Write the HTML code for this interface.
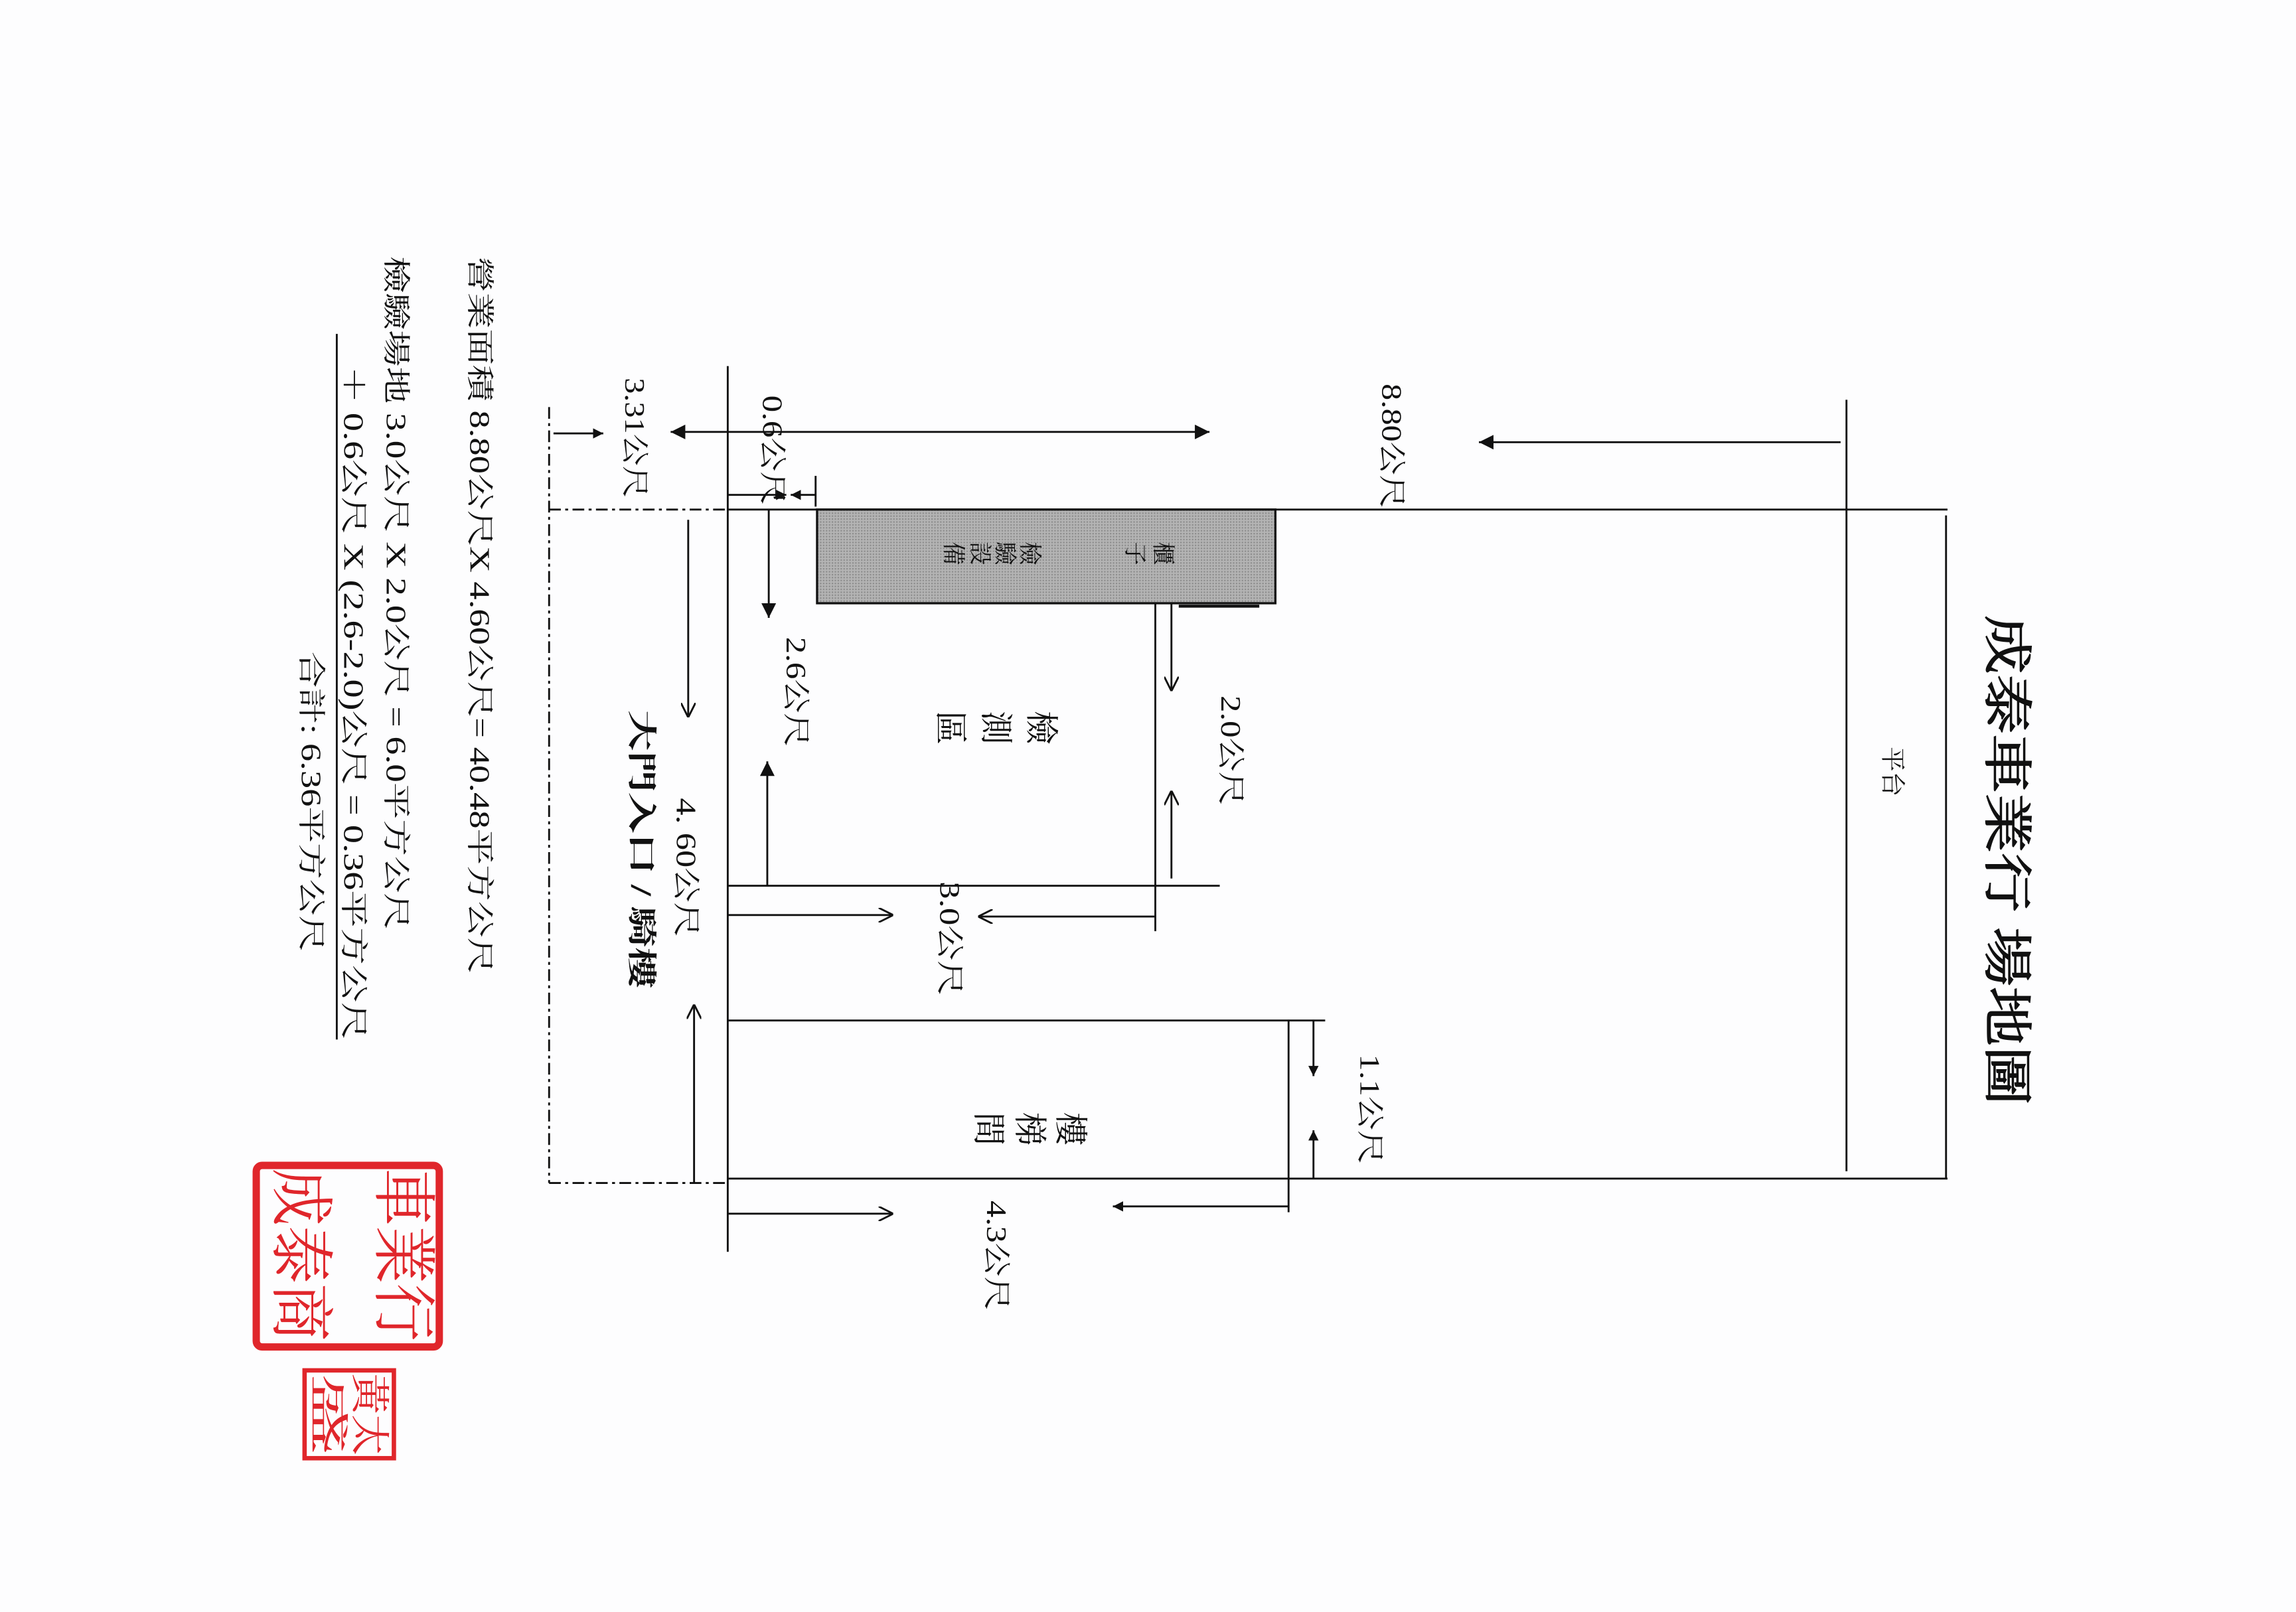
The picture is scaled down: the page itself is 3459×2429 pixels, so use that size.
<!DOCTYPE html>
<html><head><meta charset="utf-8"><style>
html,body{margin:0;padding:0;background:#fdfdfe;}
svg{display:block}
text{font-family:"Liberation Serif","Noto Serif CJK SC","Noto Sans CJK TC",serif;fill:#111;}
</style></head><body>
<svg width="3459" height="2429" viewBox="0 0 1568 1101" xmlns="http://www.w3.org/2000/svg">
<defs>
<pattern id="dots" width="2" height="2" patternUnits="userSpaceOnUse"><rect width="2" height="2" fill="#b4b4b4"/><rect width="1" height="1" fill="#8c8c8c"/></pattern>
<marker id="f" viewBox="0 0 10 10" refX="10" refY="5" markerWidth="7" markerHeight="7" markerUnits="userSpaceOnUse" orient="auto"><path d="M0,0L10,5L0,10z" fill="#111"/></marker>
<marker id="fb" viewBox="0 0 10 10" refX="10" refY="5" markerWidth="10" markerHeight="10" markerUnits="userSpaceOnUse" orient="auto-start-reverse"><path d="M0,0L10,5L0,10z" fill="#111"/></marker>
<marker id="o" viewBox="0 0 10 10" refX="10" refY="5" markerWidth="10" markerHeight="10" markerUnits="userSpaceOnUse" orient="auto"><path d="M0,0L10,5L0,10" fill="none" stroke="#111" stroke-width="1.3"/></marker>
</defs>
<rect width="1568" height="1101" fill="#fdfdfe"/>
<g stroke="#111" stroke-width="1.3" fill="none">
<line x1="497" y1="250" x2="497" y2="855"/>
<line x1="497" y1="348" x2="1330" y2="348"/>
<line x1="1329" y1="352" x2="1329" y2="805"/>
<line x1="1261" y1="273" x2="1261" y2="800"/>
<line x1="497" y1="805" x2="1330" y2="805"/>
<line x1="497" y1="605" x2="833" y2="605"/>
<line x1="497" y1="697" x2="905" y2="697"/>
<line x1="880" y1="697" x2="880" y2="828"/>
<line x1="789" y1="412" x2="789" y2="636"/>
<line x1="805" y1="414" x2="860" y2="414" stroke-width="2"/>
</g>
<g stroke="#111" stroke-width="1.3" fill="none" stroke-dasharray="8,3,2,3">
<line x1="375" y1="348" x2="497" y2="348"/>
<line x1="375" y1="278" x2="375" y2="808"/>
<line x1="375" y1="808" x2="497" y2="808"/>
</g>
<rect x="558" y="348" width="313" height="64" fill="url(#dots)" stroke="#111" stroke-width="1.5"/>
<g stroke="#111" stroke-width="1.3" fill="none">
<line x1="1257" y1="302" x2="1010" y2="302" marker-end="url(#fb)"/>
<line x1="458" y1="295" x2="826" y2="295" marker-start="url(#fb)" marker-end="url(#fb)"/>
<line x1="378" y1="296" x2="412" y2="296" marker-end="url(#f)"/>
<line x1="497" y1="338" x2="537" y2="338" marker-end="url(#f)"/>
<line x1="557" y1="338" x2="540" y2="338" marker-end="url(#f)"/>
<line x1="557" y1="325" x2="557" y2="346"/>
<line x1="525" y1="348" x2="525" y2="422" marker-end="url(#fb)"/>
<line x1="524" y1="605" x2="524" y2="520" marker-end="url(#fb)"/>
<line x1="470" y1="355" x2="470" y2="490" marker-end="url(#o)"/>
<line x1="474" y1="808" x2="474" y2="686" marker-end="url(#o)"/>
<line x1="800" y1="412" x2="800" y2="472" marker-end="url(#o)"/>
<line x1="800" y1="600" x2="800" y2="540" marker-end="url(#o)"/>
<line x1="497" y1="625" x2="610" y2="625" marker-end="url(#o)"/>
<line x1="789" y1="626" x2="668" y2="626" marker-end="url(#o)"/>
<line x1="497" y1="829" x2="610" y2="829" marker-end="url(#o)"/>
<line x1="880" y1="824" x2="760" y2="824" marker-end="url(#f)"/>
<line x1="897" y1="697" x2="897" y2="735" marker-end="url(#f)"/>
<line x1="897" y1="805" x2="897" y2="772" marker-end="url(#f)"/>
<line x1="230" y1="228" x2="230" y2="710"/>
</g>
<g dominant-baseline="central" text-anchor="middle">
<text transform="translate(794,378) rotate(90)" font-size="16">櫃</text>
<text transform="translate(775,378) rotate(90)" font-size="16">子</text>
<text transform="translate(703,378) rotate(90)" font-size="16">檢</text>
<text transform="translate(686,378) rotate(90)" font-size="16">驗</text>
<text transform="translate(669,378) rotate(90)" font-size="16">設</text>
<text transform="translate(651,378) rotate(90)" font-size="16">備</text>
<text transform="translate(711,497) rotate(90)" font-size="23">檢</text>
<text transform="translate(680,497) rotate(90)" font-size="23">測</text>
<text transform="translate(649,497) rotate(90)" font-size="23">區</text>
<text transform="translate(731,771) rotate(90)" font-size="23">樓</text>
<text transform="translate(703,771) rotate(90)" font-size="23">梯</text>
<text transform="translate(675,771) rotate(90)" font-size="23">間</text>
</g>
<g dominant-baseline="central">
<text transform="translate(1370,420) rotate(90)" font-size="34" stroke="#111" stroke-width="0.6" textLength="335" lengthAdjust="spacingAndGlyphs">成泰車業行 場地圖</text>
<text transform="translate(1292,510) rotate(90)" font-size="17">平台</text>
<text transform="translate(950,262) rotate(90)" font-size="19" textLength="85" lengthAdjust="spacingAndGlyphs">8.80公尺</text>
<text transform="translate(527,270) rotate(90)" font-size="19" textLength="75" lengthAdjust="spacingAndGlyphs">0.6公尺</text>
<text transform="translate(433,258) rotate(90)" font-size="19" textLength="82" lengthAdjust="spacingAndGlyphs">3.31公尺</text>
<text transform="translate(543,435) rotate(90)" font-size="19" textLength="75" lengthAdjust="spacingAndGlyphs">2.6公尺</text>
<text transform="translate(840,475) rotate(90)" font-size="19" textLength="75" lengthAdjust="spacingAndGlyphs">2.0公尺</text>
<text transform="translate(468,545) rotate(90)" font-size="19" textLength="95" lengthAdjust="spacingAndGlyphs">4. 60公尺</text>
<text transform="translate(438,485) rotate(90)" font-size="20" font-weight="bold" textLength="190" lengthAdjust="spacingAndGlyphs">大門入口 / 騎樓</text>
<text transform="translate(648,602) rotate(90)" font-size="19" textLength="78" lengthAdjust="spacingAndGlyphs">3.0公尺</text>
<text transform="translate(935,720) rotate(90)" font-size="19" textLength="75" lengthAdjust="spacingAndGlyphs">1.1公尺</text>
<text transform="translate(680,820) rotate(90)" font-size="19" textLength="75" lengthAdjust="spacingAndGlyphs">4.3公尺</text>
<text transform="translate(327,175) rotate(90)" font-size="19" textLength="490" lengthAdjust="spacingAndGlyphs">營業面積  8.80公尺X 4.60公尺= 40.48平方公尺</text>
<text transform="translate(270,175) rotate(90)" font-size="19" textLength="460" lengthAdjust="spacingAndGlyphs">檢驗場地  3.0公尺 X 2.0公尺 = 6.0平方公尺</text>
<text transform="translate(241,250) rotate(90)" font-size="19" textLength="460" lengthAdjust="spacingAndGlyphs">＋ 0.6公尺 X (2.6-2.0)公尺 = 0.36平方公尺</text>
<text transform="translate(212,445) rotate(90)" font-size="19" textLength="205" lengthAdjust="spacingAndGlyphs">合計: 6.36平方公尺</text>
</g>
<g fill="none" stroke="#e0262b">
<rect x="175" y="796" width="125" height="124" rx="4" stroke-width="5"/>
<rect x="208" y="936" width="61" height="60" stroke-width="3"/>
</g>
<g dominant-baseline="central" font-size="44">
<text transform="translate(275,798) rotate(90)" style="fill:#e0262b" textLength="118" lengthAdjust="spacingAndGlyphs">車業行</text>
<text transform="translate(205,798) rotate(90)" style="fill:#e0262b" textLength="118" lengthAdjust="spacingAndGlyphs">成泰商</text>
<text transform="translate(252,938) rotate(90)" style="fill:#e0262b" font-size="27" textLength="56" lengthAdjust="spacingAndGlyphs">黃太</text>
<text transform="translate(224,938) rotate(90)" style="fill:#e0262b" font-size="27" textLength="56" lengthAdjust="spacingAndGlyphs">盛</text>
</g>
</svg>
</body></html>
